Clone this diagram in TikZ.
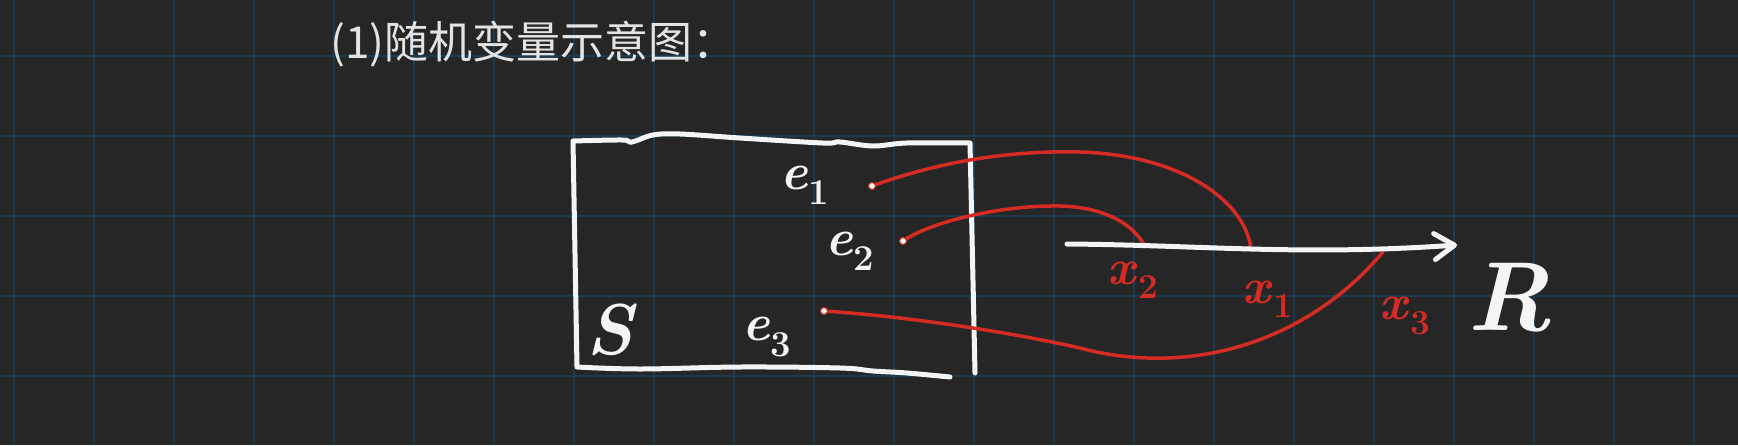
\documentclass[tikz,border=0pt]{standalone}
\usepackage{fontspec}
\newfontfamily\cjk{Noto Sans CJK SC}
\usetikzlibrary{arrows.meta}
\definecolor{fondo}{HTML}{262626}
\definecolor{rejilla}{HTML}{1E3A4C}
\definecolor{tiza}{HTML}{F4F4F4}
\definecolor{rojo}{HTML}{D42B24}
\newcommand{\varsub}[2]{\textit{#1}\textsubscript{#2}}
\begin{document}
\begin{tikzpicture}[x=1pt,y=-1pt,
        chalk/.style={draw=tiza,line width=5pt,line cap=round,line join=round},
        redline/.style={draw=rojo,line width=3.5pt,line cap=round},
        lbl/.style={inner sep=0pt,text=tiza},
        redlbl/.style={inner sep=0pt,text=rojo,font=\fontsize{50}{58}\selectfont\bfseries}]
        \fill[fondo] (0,0) rectangle (1738,445);
        \useasboundingbox (0,0) rectangle (1738,445);
        % Dibuja la rejilla del fondo
        \foreach \i in {0,...,21} \draw[rejilla,line width=2pt] (14+80*\i,0) -- (14+80*\i,445);
        \foreach \j in {0,...,4} \draw[rejilla,line width=2pt] (0,56+80*\j) -- (1738,56+80*\j);
        \node[anchor=west,inner sep=0pt,text=tiza!92!fondo,font=\fontsize{44}{50}\selectfont\cjk] (titulo) at (330,44) {(1)随机变量示意图：};
        % Dibuja el espacio muestral S
        \draw[chalk] (975,373) -- (970,143)
            plot[smooth,tension=.6] coordinates {(970,143) (907,143) (873,146) (840,142) (823,143) (740,138) (680,134) (653,135) (632,142) (622,140) (573,141)}
            -- (577,367)
            plot[smooth,tension=.6] coordinates {(577,367) (640,369) (740,367) (840,368) (873,371) (907,373) (950,377)};
        \node[lbl,font=\fontsize{72}{80}\selectfont\bfseries] (S) at (612,330) {\textit{S}};
        \node[lbl,font=\fontsize{52}{60}\selectfont\bfseries] (e1) at (805,185) {\varsub{e}{1}};
        \node[lbl,font=\fontsize{52}{60}\selectfont\bfseries] (e2) at (850,251) {\varsub{e}{2}};
        \node[lbl,font=\fontsize{52}{60}\selectfont\bfseries] (e3) at (767,337) {\varsub{e}{3}};
        \coordinate (p1) at (872,186);
        \coordinate (p2) at (903,241);
        \coordinate (p3) at (824,311);
        % Dibuja la recta real
        \coordinate (o) at (1067,244);
        \coordinate (r) at (1457,245);
        \coordinate (x2) at (1145,247);
        \coordinate (x1) at (1251,249);
        \coordinate (x3) at (1383,252);
        \draw[redline] (p1) .. controls (930,165) and (1000,150) .. (1080,152) .. controls (1180,155) and (1245,200) .. (x1);
        \draw[redline] (p2) .. controls (930,222) and (1000,205) .. (1060,206) .. controls (1105,207) and (1135,225) .. (x2);
        \draw[redline] (p3) .. controls (900,316) and (1000,330) .. (1080,348) .. controls (1180,375) and (1300,350) .. (x3);
        \draw[chalk,-{Straight Barb[length=20pt,width=26pt,round]}] (o) .. controls (1200,245) and (1300,256) .. (r);
        \foreach \p in {p1,p2,p3} \draw[rojo,fill=tiza,line width=1pt] (\p) circle (3.5pt);
        \node[redlbl] (lx2) at (1133,280) {\varsub{x}{2}};
        \node[redlbl] (lx1) at (1268,299) {\varsub{x}{1}};
        \node[redlbl] (lx3) at (1405,316) {\varsub{x}{3}};
        \node[lbl,font=\fontsize{98}{104}\selectfont\bfseries] (R) at (1510,298) {\textit{R}};
\end{tikzpicture}
\end{document}
